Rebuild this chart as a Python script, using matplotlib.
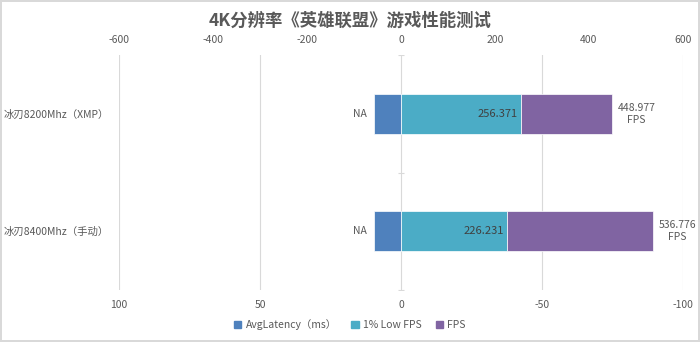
import numpy as np
import matplotlib.pyplot as plt

plt.rcParams['font.family'] = ['Noto Sans CJK SC', 'DejaVu Sans']

categories = ['冰刃8200Mhz（XMP）', '冰刃8400Mhz（手动）']
latency = [9.7, 9.7]          # drawn, but labelled NA
latency_labels = ['NA', 'NA']
low_fps = [256.371, 226.231]
fps = [448.977, 536.776]

top_ticks = [-600, -400, -200, 0, 200, 400, 600]
bottom_ticks = [100, 50, 0, -50, -100]

c_lat = '#4f81bd'
c_low = '#4bacc6'
c_fps = '#8064a2'
txt = '#595959'
grid = '#d9d9d9'

fig = plt.figure(figsize=(7, 3.42), dpi=100, edgecolor=grid, linewidth=1.5)
ax = fig.add_axes([0.17, 0.152, 0.8057, 0.687])
ax2 = ax.twiny()

y = np.arange(len(categories))[::-1]
h = 0.34

# latency axis (bottom, reversed)
ax.barh(y, latency, height=h, color=c_lat, edgecolor='white', linewidth=0.5)
ax.set_xlim(100, -100)
ax.set_ylim(-0.5, len(categories) - 0.5)
ax.set_xticks(bottom_ticks)
ax.set_xticklabels([str(t) for t in bottom_ticks])
for t in bottom_ticks:
    ax.axvline(t, color=grid, lw=0.8, zorder=0)
for yi, v, lab in zip(y, latency, latency_labels):
    ax.text(v + 2.5, yi, lab, ha='right', va='center', fontsize=7.5, color=txt)

# category boundary ticks on the zero line
ax.plot(np.zeros(len(categories) + 1), np.arange(len(categories) + 1) - 0.5,
        ls='none', marker='_', ms=5, color=grid, mew=0.8)

ax.set_yticks(y)
ax.set_yticklabels(categories)
ax.tick_params(axis='y', length=0, pad=7, labelsize=7.5, labelcolor=txt)
ax.tick_params(axis='x', length=0, pad=7, labelsize=7.5, labelcolor=txt)

# fps axis (top)
ax2.barh(y, low_fps, height=h, color=c_low, edgecolor='white', linewidth=0.5)
ax2.barh(y, np.array(fps) - np.array(low_fps), left=low_fps, height=h,
         color=c_fps, edgecolor='white', linewidth=0.5)
ax2.set_xlim(-600, 600)
ax2.set_xticks(top_ticks)
ax2.set_xticklabels([str(t) for t in top_ticks])
ax2.tick_params(axis='x', length=0, pad=7, labelsize=7.5, labelcolor=txt)
for yi, v in zip(y, low_fps):
    ax2.text(v - 8, yi, f'{v:.3f}', ha='right', va='center', fontsize=8, color='#404040')
for yi, v in zip(y, fps):
    ax2.text(v + 12, yi, f'{v:.3f}\nFPS', ha='left', va='center', fontsize=7.5,
             color=txt, linespacing=1.2, multialignment='center')

for a in (ax, ax2):
    for s in a.spines.values():
        s.set_visible(False)

fig.suptitle('4K分辨率《英雄联盟》游戏性能测试', x=0.5, y=0.965, fontsize=12.5,
             fontweight='bold', color=txt)

handles = [plt.Rectangle((0, 0), 1, 1, color=c) for c in (c_lat, c_low, c_fps)]
fig.legend(handles, ['AvgLatency（ms）', '1% Low FPS', 'FPS'], loc='center',
           bbox_to_anchor=(0.5, 0.05), ncol=3, frameon=False, fontsize=7.5,
           handlelength=0.7, handleheight=0.7, handletextpad=0.4, columnspacing=1.4,
           labelcolor=txt)

fig.savefig('out.png', dpi=100, edgecolor=fig.get_edgecolor())
